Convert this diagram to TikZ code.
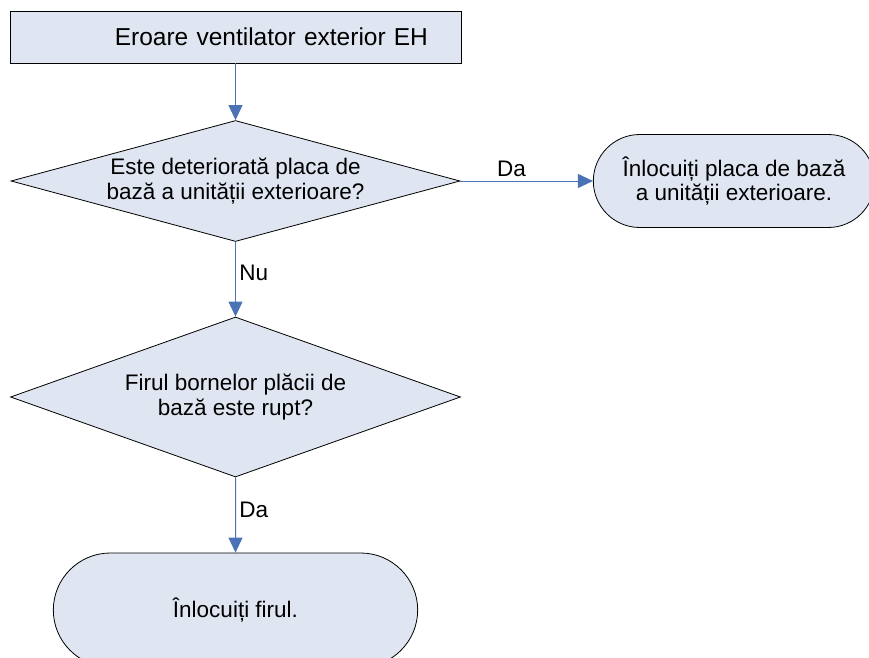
\documentclass[tikz,border=0pt]{standalone}
\usepackage{fontspec}
\setmainfont{Liberation Sans}
\definecolor{accent}{HTML}{4A72B5}
\definecolor{panel}{HTML}{DFE6F1}
\usetikzlibrary{arrows.meta,shapes.geometric,shapes.misc}

\begin{document}
\begin{tikzpicture}[x=1bp,y=-1bp,>={Triangle[width=14bp,length=15bp]},every node/.style={font=\fontsize{22.5bp}{24.5bp}\selectfont}]
\useasboundingbox (0,0) rectangle (869,658);
\node[draw,line width=0.8bp,fill=panel,rectangle,minimum width=451bp,minimum height=52bp,text width=385bp,align=right,inner xsep=33bp,inner ysep=0pt,font=\fontsize{24.5bp}{29bp}\selectfont] (A) at (235.5,37) {Eroare ventilator exterior EH};
\node[draw,line width=0.8bp,fill=panel,diamond,aspect=3.7,minimum width=449bp,minimum height=121bp,inner sep=0pt,align=center] (B) at (235.5,181) {Este deteriorată placa de\\bază a unității exterioare?};
\node[draw,line width=0.8bp,fill=panel,rounded rectangle,minimum width=288bp,minimum height=93bp,align=center] (C) at (734,181) {Înlocuiți placa de bază\\a unității exterioare.};
\node[draw,line width=0.8bp,fill=panel,diamond,aspect=2.8,minimum width=450bp,minimum height=160bp,inner sep=0pt,align=center] (D) at (235.5,397) {Firul bornelor plăcii de\\bază este rupt?};
\node[draw,line width=0.8bp,fill=panel,rounded rectangle,minimum width=371bp,minimum height=114bp] (E) at (235.5,610) {Înlocuiți firul.};
\draw[->,accent,line width=1bp] (A) -- (B);
\draw[->,accent,line width=1bp] (B) -- node[pos=0.385,above,text=black]{Da} (C);
\draw[->,accent,line width=1bp] (B) -- node[pos=0.41,right,text=black]{Nu} (D);
\draw[->,accent,line width=1bp] (D) -- node[pos=0.43,right,text=black]{Da} (E);
\end{tikzpicture}
\end{document}
